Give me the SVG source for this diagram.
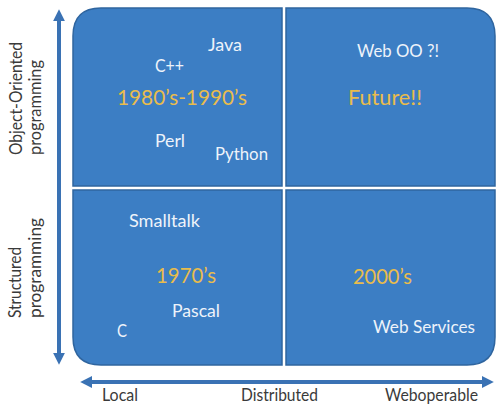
<svg xmlns="http://www.w3.org/2000/svg" width="501" height="405" viewBox="0 0 501 405">
<defs>
<style>
.q{fill:#3C7EC4;stroke:#2F659F;stroke-width:1.5}
.w{font-family:Lato,"Open Sans","Liberation Sans",sans-serif;font-size:18px;fill:#EEF3FA}
.y{font-family:Lato,"Open Sans","Liberation Sans",sans-serif;font-size:21px;fill:#E9BC4C}
.a{font-family:Lato,"Open Sans","Liberation Sans",sans-serif;font-size:17px;fill:#3A3A3A}
.ax{stroke:#3A72B4;stroke-width:4;fill:none}
</style>
<marker id="ah" viewBox="0 0 10 10" refX="6" refY="5" markerWidth="3" markerHeight="3" orient="auto-start-reverse" markerUnits="strokeWidth">
<path d="M0,0 L10,5 L0,10 z" fill="#3A72B4"/>
</marker>
</defs>
<rect width="501" height="405" fill="#FFFFFF"/>
<g id="q-oo-local">
<path class="q" d="M73,186 V36 Q73,8 101,8 H282 V186 Z"/>
<text class="w" x="208" y="51" textLength="34" lengthAdjust="spacingAndGlyphs">Java</text>
<text class="w" x="155" y="72" textLength="29" lengthAdjust="spacingAndGlyphs">C++</text>
<text class="y" x="117" y="105" textLength="130" lengthAdjust="spacingAndGlyphs">1980’s-1990’s</text>
<text class="w" x="155" y="147" textLength="30" lengthAdjust="spacingAndGlyphs">Perl</text>
<text class="w" x="215" y="160" textLength="53" lengthAdjust="spacingAndGlyphs">Python</text>
</g>
<g id="q-oo-web">
<path class="q" d="M286,186 V8 H467 Q495,8 495,36 V186 Z"/>
<text class="w" x="357" y="57" textLength="82" lengthAdjust="spacingAndGlyphs">Web OO ?!</text>
<text class="y" x="348" y="105" textLength="74" lengthAdjust="spacingAndGlyphs">Future!!</text>
</g>
<g id="q-st-local">
<path class="q" d="M73,190 H282 V365 H101 Q73,365 73,337 Z"/>
<text class="w" x="129" y="227" textLength="71" lengthAdjust="spacingAndGlyphs">Smalltalk</text>
<text class="y" x="156" y="283" textLength="60" lengthAdjust="spacingAndGlyphs">1970’s</text>
<text class="w" x="172" y="317" textLength="48" lengthAdjust="spacingAndGlyphs">Pascal</text>
<text class="w" x="117" y="337" textLength="10" lengthAdjust="spacingAndGlyphs">C</text>
</g>
<g id="q-st-web">
<path class="q" d="M286,190 H495 V337 Q495,365 467,365 H286 Z"/>
<text class="y" x="353" y="284" textLength="59" lengthAdjust="spacingAndGlyphs">2000’s</text>
<text class="w" x="373" y="333" textLength="102" lengthAdjust="spacingAndGlyphs">Web Services</text>
</g>
<g id="connectors">
<line class="ax" x1="59" y1="14" x2="59" y2="360" marker-start="url(#ah)" marker-end="url(#ah)"/>
<line class="ax" x1="85" y1="382" x2="489" y2="382" marker-start="url(#ah)" marker-end="url(#ah)"/>
</g>
<g id="axis-labels">
<text class="a" transform="translate(22,155) rotate(-90)" textLength="113" lengthAdjust="spacingAndGlyphs">Object-Oriented</text>
<text class="a" transform="translate(41,155) rotate(-90)" textLength="95" lengthAdjust="spacingAndGlyphs">programming</text>
<text class="a" transform="translate(21,318) rotate(-90)" textLength="71" lengthAdjust="spacingAndGlyphs">Structured</text>
<text class="a" transform="translate(41,318) rotate(-90)" textLength="100" lengthAdjust="spacingAndGlyphs">programming</text>
<text class="a" x="102" y="401" textLength="36" lengthAdjust="spacingAndGlyphs">Local</text>
<text class="a" x="241" y="401" textLength="77" lengthAdjust="spacingAndGlyphs">Distributed</text>
<text class="a" x="385" y="401" textLength="93" lengthAdjust="spacingAndGlyphs">Weboperable</text>
</g>
</svg>
